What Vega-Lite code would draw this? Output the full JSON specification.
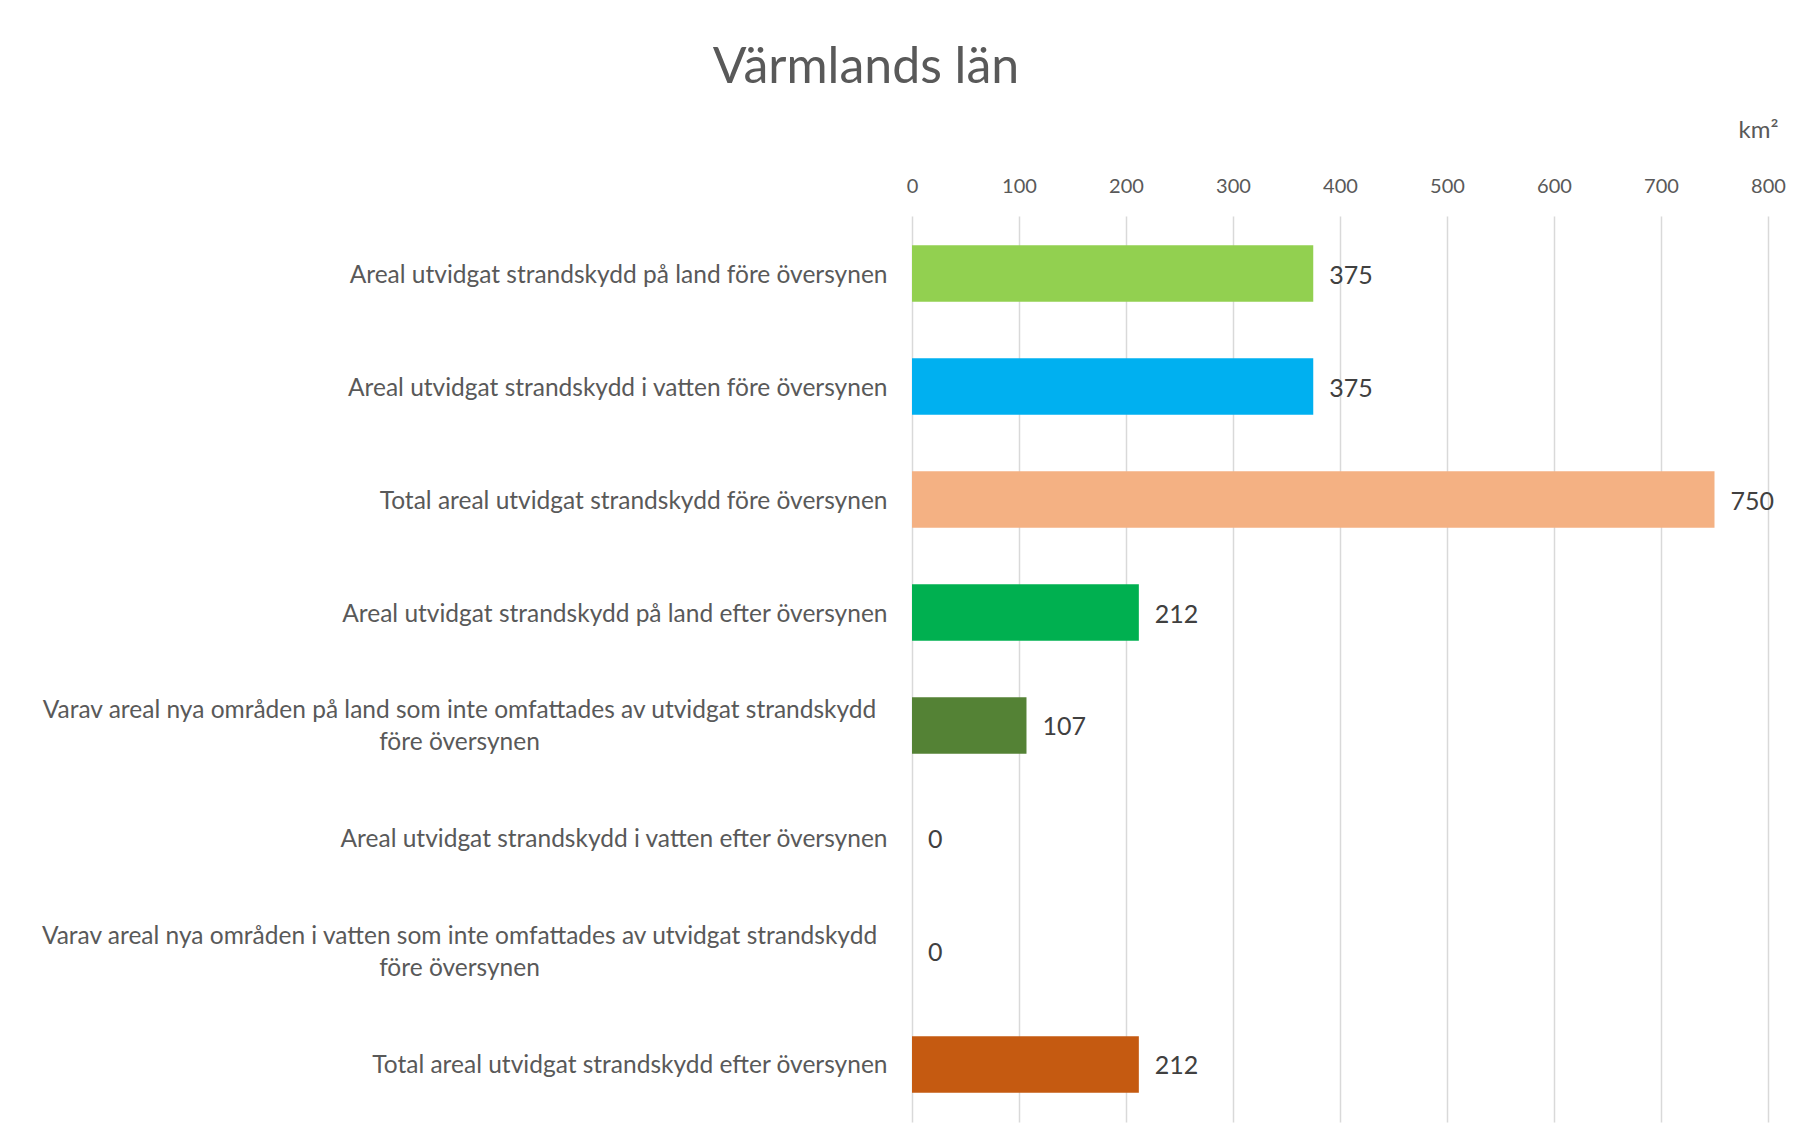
{
  "$schema": "https://vega.github.io/schema/vega-lite/v6.json",
  "autosize": "none",
  "width": 856,
  "height": 906,
  "padding": {"left": 912, "top": 216, "right": 30, "bottom": 25},
  "background": "white",
  "config": {"view": {"stroke": null}, "font": "Lato"},
  "title": {
    "text": "Värmlands län",
    "fontSize": 50,
    "font": "Lato",
    "fontWeight": "normal",
    "color": "#595959",
    "anchor": "middle",
    "dx": -474,
    "offset": 25
  },
  "data": {
    "values": [
      {"kategori": "Areal utvidgat strandskydd på land före översynen", "km2": 375},
      {"kategori": "Areal utvidgat strandskydd i vatten före översynen", "km2": 375},
      {"kategori": "Total areal utvidgat strandskydd före översynen", "km2": 750},
      {"kategori": "Areal utvidgat strandskydd på land efter översynen", "km2": 212},
      {"kategori": "Varav areal nya områden på land som inte omfattades av utvidgat strandskydd\nföre översynen", "km2": 107},
      {"kategori": "Areal utvidgat strandskydd i vatten efter översynen", "km2": 0},
      {"kategori": "Varav areal nya områden i vatten som inte omfattades av utvidgat strandskydd\nföre översynen", "km2": 0},
      {"kategori": "Total areal utvidgat strandskydd efter översynen", "km2": 212}
    ]
  },
  "encoding": {
    "y": {
      "field": "kategori",
      "type": "nominal",
      "sort": null,
      "scale": {"paddingInner": 0.5, "paddingOuter": 0.26},
      "axis": {
        "title": null,
        "domain": false,
        "ticks": false,
        "labelFont": "Lato",
        "labelFontSize": 24.5,
        "labelColor": "#595959",
        "labelLimit": 0,
        "labelLineHeight": 32,
        "labelExpr": "split(datum.label, '\\n')",
        "labelAlign": {"condition": {"test": "indexof(datum.value, '\\n') >= 0", "value": "center"}, "value": "right"},
        "labelPadding": {"condition": {"test": "indexof(datum.value, '\\n') >= 0", "value": 453}, "value": 25},
        "labelOffset": {"condition": {"test": "indexof(datum.value, '\\n') >= 0", "value": -14}, "value": 2}
      }
    },
    "x": {
      "field": "km2",
      "type": "quantitative",
      "scale": {"domain": [0, 800], "nice": false},
      "axis": {
        "orient": "top",
        "values": [0, 100, 200, 300, 400, 500, 600, 700, 800],
        "domain": false,
        "ticks": false,
        "grid": true,
        "gridColor": "#D9D9D9",
        "gridWidth": 1.5,
        "labelFlush": false,
        "labelOverlap": false,
        "labelFont": "Lato",
        "labelFontSize": 20,
        "labelColor": "#595959",
        "labelPadding": 20,
        "title": "km²",
        "titleFont": "Lato",
        "titleFontSize": 24,
        "titleFontWeight": "normal",
        "titleColor": "#595959",
        "titleAngle": 0,
        "titleAlign": "right",
        "titleAnchor": "end",
        "titleX": 866,
        "titleY": -79,
        "titleBaseline": "alphabetic"
      }
    }
  },
  "layer": [
    {
      "mark": {"type": "bar"},
      "encoding": {
        "color": {
          "field": "kategori",
          "type": "nominal",
          "legend": null,
          "scale": {
            "domain": [
              "Areal utvidgat strandskydd på land före översynen",
              "Areal utvidgat strandskydd i vatten före översynen",
              "Total areal utvidgat strandskydd före översynen",
              "Areal utvidgat strandskydd på land efter översynen",
              "Varav areal nya områden på land som inte omfattades av utvidgat strandskydd\nföre översynen",
              "Areal utvidgat strandskydd i vatten efter översynen",
              "Varav areal nya områden i vatten som inte omfattades av utvidgat strandskydd\nföre översynen",
              "Total areal utvidgat strandskydd efter översynen"
            ],
            "range": ["#92D050", "#00B0F0", "#F4B183", "#00B050", "#548235", "#5B9BD5", "#A5A5A5", "#C55A11"]
          }
        }
      }
    },
    {
      "mark": {"type": "text", "align": "left", "baseline": "middle", "dx": 16, "dy": 2, "fontSize": 25, "font": "Lato", "color": "#404040"},
      "encoding": {"text": {"field": "km2", "type": "quantitative"}}
    }
  ]
}
